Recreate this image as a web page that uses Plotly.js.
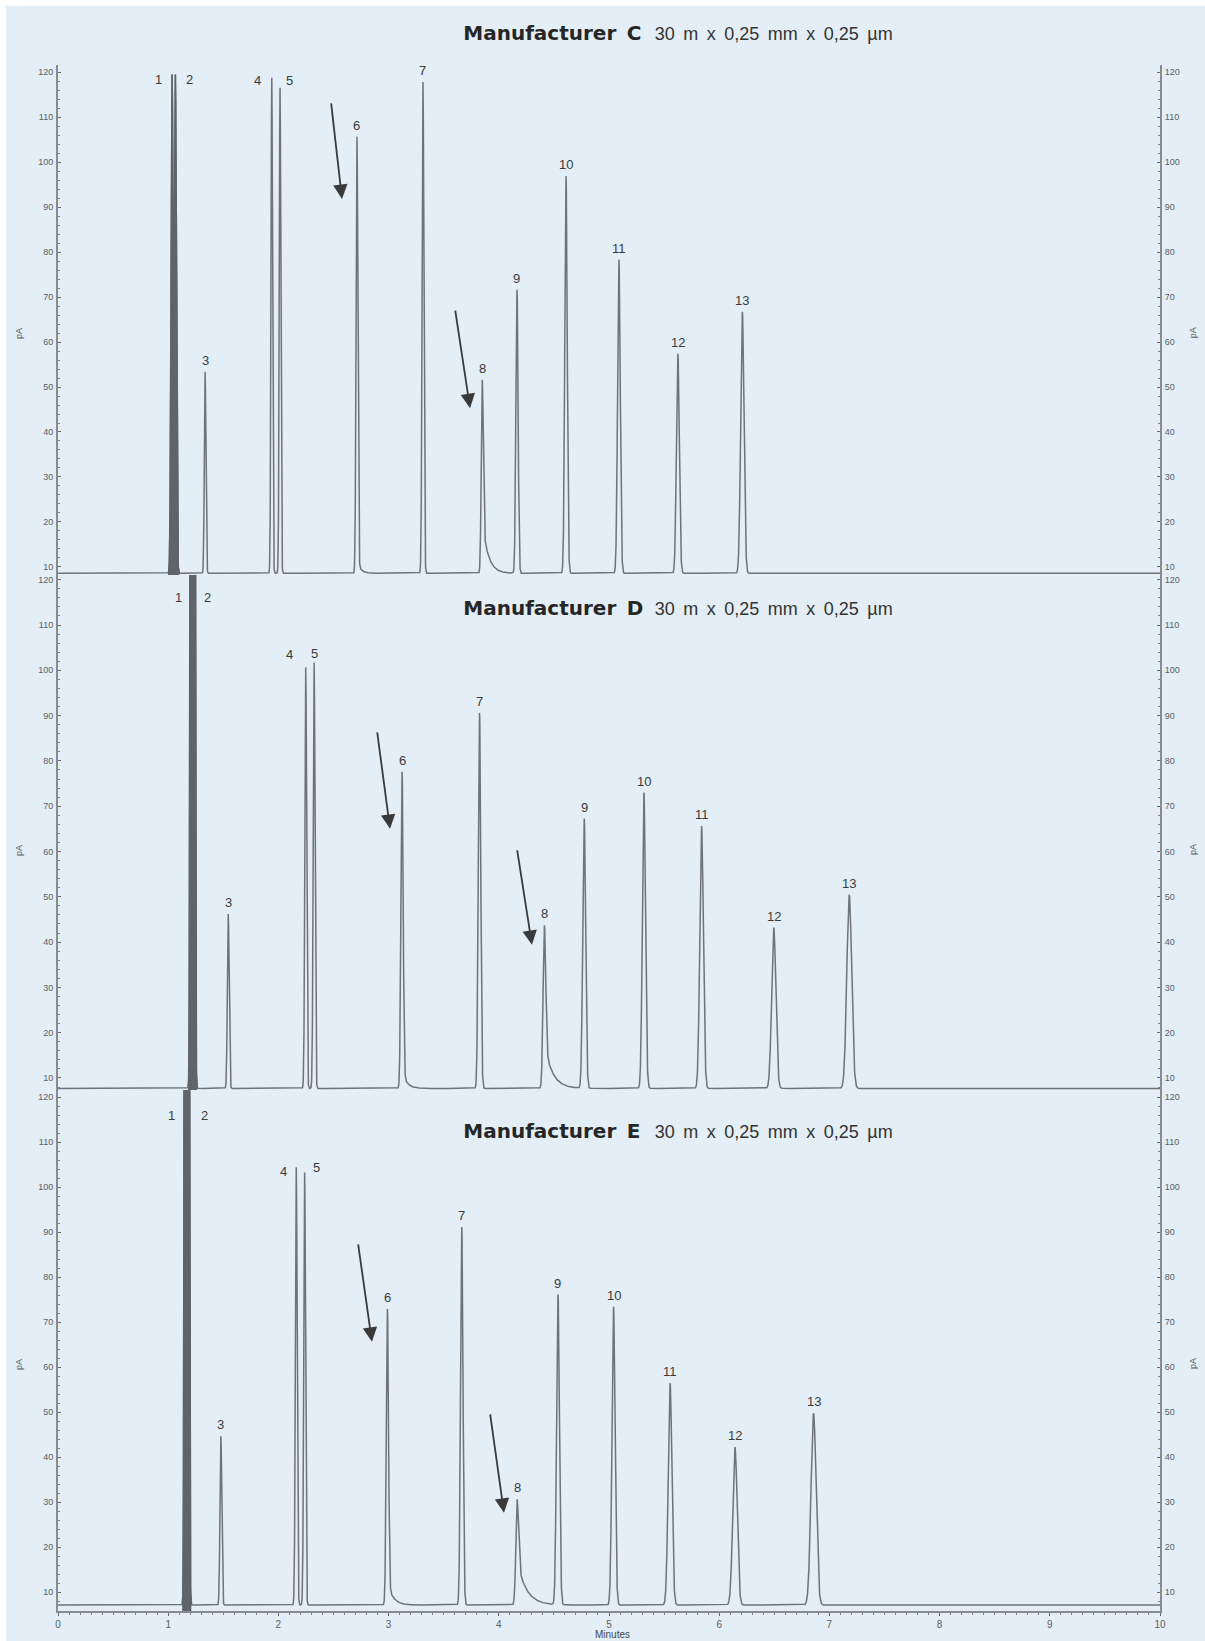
<!DOCTYPE html>
<html>
<head>
<meta charset="utf-8">
<script src="https://cdn.plot.ly/plotly-3.0.1.min.js"></script>
<style>
html,body{margin:0;padding:0;background:#ffffff;}
#chart{position:absolute;left:6px;top:6px;width:1199px;height:1635px;}
#chart .annotation-text{word-spacing:3.5px;}
</style>
</head>
<body>
<div id="chart"></div>
<script>
// ---------------- DATA ----------------
const peakLabels = ['1','2','3','4','5','6','7','8','9','10','11','12','13'];

// Manufacturer C : retention time (min), apex height (pA), peak width (sigma, min), tail amplitude, tail decay
const rtC   = [1.035, 1.065, 1.335, 1.94, 2.015, 2.713, 3.312, 3.85, 4.165, 4.61, 5.09, 5.625, 6.21];
const hC    = [119, 119, 53.4, 118.7, 116.5, 105.6, 117.8, 51.6, 71.6, 96.9, 78.3, 57.4, 66.7];
const wC    = [0.009, 0.009, 0.007, 0.007, 0.007, 0.008, 0.008, 0.009, 0.010, 0.011, 0.012, 0.013, 0.015];
const tailC = [0, 0, 0, 0, 0, 3, 0, 12, 0, 0, 0, 0, 0];
const tauC  = [0, 0, 0, 0, 0, 0.03, 0, 0.05, 0, 0, 0, 0, 0];

// Manufacturer D
const rtD   = [1.208, 1.235, 1.545, 2.248, 2.324, 3.122, 3.825, 4.414, 4.775, 5.317, 5.84, 6.495, 7.18];
const hD    = [400, 400, 46.2, 100.7, 101.7, 77.6, 90.6, 43.7, 67.2, 73.0, 65.6, 43.2, 50.4];
const wD    = [0.007, 0.007, 0.008, 0.008, 0.008, 0.010, 0.011, 0.012, 0.013, 0.014, 0.016, 0.019, 0.022];
const tailD = [0, 0, 0, 0, 0, 4, 0, 10, 0, 0, 0, 0, 0];
const tauD  = [0, 0, 0, 0, 0, 0.04, 0, 0.07, 0, 0, 0, 0, 0];

// Manufacturer E
const rtE   = [1.155, 1.182, 1.478, 2.162, 2.238, 2.989, 3.664, 4.167, 4.537, 5.041, 5.554, 6.143, 6.856];
const hE    = [400, 400, 44.6, 104.4, 103.2, 72.9, 91.1, 30.6, 76.0, 73.4, 56.4, 42.2, 49.7];
const wE    = [0.007, 0.007, 0.008, 0.008, 0.008, 0.010, 0.011, 0.012, 0.013, 0.014, 0.017, 0.020, 0.023];
const tailE = [0, 0, 0, 0, 0, 5, 0, 10, 0, 0, 0, 0, 0];
const tauE  = [0, 0, 0, 0, 0, 0.05, 0, 0.08, 0, 0, 0, 0, 0];

// detector baseline level of each chromatogram (pA)
const baselineLevels = [8.6, 7.7, 7.1];

const panelNames = ['Manufacturer C', 'Manufacturer D', 'Manufacturer E'];
const columnSpec = '30 m x 0,25 mm x 0,25 \u00b5m';
const xTickVals = [0,1,2,3,4,5,6,7,8,9,10];
const xAxisTitle = 'Minutes';
const yAxisTitle = 'pA';

// ---------------- BUILD ----------------
const runMinutes = 10, step = 0.001;
const times = [];
for (let i = 0; i <= runMinutes / step; i++) times.push(+(i * step).toFixed(3));

// detector signal built from the peak table (only the peaks listed in "use")
function chromatogram(p, base, use) {
  const y = times.map(() => base);
  use.forEach(k => {
    const A = p.ta[k] || 0, tau = p.tt[k] || 0.0001, w = p.w[k];
    const g = p.h[k] - base - A;
    const lo = Math.max(0, Math.floor((p.rt[k] - 10 * w) / step));
    const hi = Math.min(times.length - 1, Math.ceil((p.rt[k] + Math.max(10 * w, 10 * tau)) / step));
    for (let i = lo; i <= hi; i++) {
      const d = times[i] - p.rt[k];
      const gs = Math.exp(-0.5 * (d / w) * (d / w));
      let v = g * gs;
      if (A > 0) v += d < 0 ? A * gs : A * Math.exp(-d / tau);
      y[i] += v;
    }
  });
  return y;
}

const panels = [
  {rt: rtC, h: hC, w: wC, ta: tailC, tt: tauC, ax: 'y',  right: 'y4'},
  {rt: rtD, h: hD, w: wD, ta: tailD, tt: tauD, ax: 'y2', right: 'y5'},
  {rt: rtE, h: hE, w: wE, ta: tailE, tt: tauE, ax: 'y3', right: 'y6'}
];

const traceColor = '#6e7378';
const data = [];
panels.forEach((p, idx) => {
  const all = p.rt.map((_, k) => k);
  const full = chromatogram(p, baselineLevels[idx], all);
  data.push({
    x: times, y: full, xaxis: 'x', yaxis: p.ax, type: 'scatter', mode: 'lines',
    line: {color: traceColor, width: 1.5}, hoverinfo: 'skip', showlegend: false
  });
  // the unresolved pair 1+2 prints as a solid dark band
  const pair = chromatogram(p, baselineLevels[idx], [0, 1]);
  const lo = Math.floor((p.rt[0] - 4 * p.w[0]) / step), hi = Math.ceil((p.rt[1] + 4 * p.w[1]) / step);
  data.push({
    x: times.slice(lo, hi + 1), y: pair.slice(lo, hi + 1), xaxis: 'x', yaxis: p.ax, type: 'scatter', mode: 'lines',
    fill: 'tozeroy', fillcolor: '#5f6469', line: {color: '#5f6469', width: 1.5}, hoverinfo: 'skip', showlegend: false
  });
  data.push({x: [null], y: [null], xaxis: 'x', yaxis: p.right, type: 'scatter', mode: 'lines', showlegend: false, hoverinfo: 'skip'});
});

// geometry (layout only)
const yRanges = [[8.22, 121.56], [7.35, 121.04], [5.78, 121.56]];
const yDomains = [[0.67012, 1], [0.33700, 0.67012], [0, 0.33700]];
const bg = '#e3eef6';
const axisColor = '#878c91';
const tickFont = {family: 'Liberation Sans, Arial, sans-serif', size: 9, color: '#5b6065'};

function yAxis(i, side, overlay) {
  const a = {
    range: yRanges[i], showline: true, linecolor: axisColor, linewidth: 2,
    tickmode: 'linear', tick0: 0, dtick: 10,
    ticks: 'inside', ticklen: 3, tickwidth: 1, tickcolor: '#666b70',
    minor: {tickmode: 'linear', tick0: 0, dtick: 2, ticks: 'inside', ticklen: 2, tickwidth: 1, tickcolor: '#7d8287', showgrid: false},
    tickfont: tickFont, ticklabelstandoff: 1,
    showgrid: false, zeroline: false, fixedrange: true, anchor: 'x', side: side
  };
  if (overlay) a.overlaying = overlay; else a.domain = yDomains[i];
  return a;
}

const annotations = [];
const titleY = [1.0207, 0.6488, 0.3105];
panelNames.forEach((n, i) => {
  annotations.push({xref: 'paper', yref: 'paper', x: 0.3674, y: titleY[i], xanchor: 'left', yanchor: 'middle',
    text: '<b>' + n + '</b>', showarrow: false,
    font: {family: 'DejaVu Sans, Arial, sans-serif', size: 20, color: '#262626'}});
  annotations.push({xref: 'paper', yref: 'paper', x: 0.5510, y: titleY[i] - 0.0005, xanchor: 'left', yanchor: 'middle',
    text: columnSpec, showarrow: false,
    font: {family: 'Liberation Sans, Arial, sans-serif', size: 18, color: '#333333'}});
});

// side-placed labels (pixel shift, label level) for the overlapping peak pairs
const sideLabels = [
  {'1': [-14, 118.3], '2': [14, 118.3], '4': [-14, 118.2], '5': [9, 118.2]},
  {'1': [-13, 116],   '2': [13, 116],   '4': [-16, 103.4], '5': [0, 103.8]},
  {'1': [-14, 116],   '2': [16, 116],   '4': [-13, 103.4], '5': [12, 104.4]}
];
const labelFont = {family: 'Liberation Sans, Arial, sans-serif', size: 13, color: '#3a3a3a'};
panels.forEach((p, i) => {
  peakLabels.forEach((lab, k) => {
    const s = sideLabels[i][lab];
    if (s) {
      annotations.push({xref: 'x', yref: p.ax, x: p.rt[k], y: s[1], xshift: s[0], xanchor: 'center', yanchor: 'middle',
        text: lab, showarrow: false, font: labelFont});
    } else {
      annotations.push({xref: 'x', yref: p.ax, x: p.rt[k], y: p.h[k], yshift: 2, xanchor: 'center', yanchor: 'bottom',
        text: lab, showarrow: false, font: labelFont});
    }
  });
});

// arrows pointing at the tailing peaks
const arrows = [
  ['y', 2.577, 91.8, -11, -97], ['y', 3.739, 45.3, -15, -99],
  ['y2', 3.013, 65.0, -13, -98], ['y2', 4.301, 39.4, -15, -96],
  ['y3', 2.849, 65.6, -14, -99], ['y3', 4.047, 27.6, -14, -100]
];
arrows.forEach(a => {
  annotations.push({xref: 'x', yref: a[0], x: a[1], y: a[2], ax: a[3], ay: a[4], text: '',
    showarrow: true, arrowhead: 2, arrowsize: 1.6, arrowwidth: 1.8, arrowcolor: '#3a3a3a', standoff: 0});
});

// axis titles
[0.8266, 0.4922, 0.1598].forEach(yy => {
  annotations.push({xref: 'paper', yref: 'paper', x: -0.0354, y: yy, xanchor: 'center', yanchor: 'middle', text: yAxisTitle, textangle: -90,
    showarrow: false, font: {family: 'Liberation Sans, Arial, sans-serif', size: 9, color: '#555a5f'}});
  annotations.push({xref: 'paper', yref: 'paper', x: 1.030, y: yy, xanchor: 'center', yanchor: 'middle', text: yAxisTitle, textangle: -90,
    showarrow: false, font: {family: 'Liberation Sans, Arial, sans-serif', size: 9, color: '#555a5f'}});
});
annotations.push({xref: 'paper', yref: 'paper', x: 0.503, y: -0.0155, xanchor: 'center', yanchor: 'middle', text: xAxisTitle, showarrow: false,
  font: {family: 'Liberation Sans, Arial, sans-serif', size: 10, color: '#44494e'}});

const layout = {
  width: 1199, height: 1635,
  margin: {l: 52, r: 45, t: 59, b: 30},
  paper_bgcolor: bg, plot_bgcolor: bg,
  showlegend: false,
  xaxis: {
    range: [0, 10], anchor: 'y3', showline: true, linecolor: axisColor, linewidth: 1.5,
    tickmode: 'array', tickvals: xTickVals, ticktext: xTickVals.map(String),
    ticks: 'outside', ticklen: 3, tickcolor: '#666b70', ticklabelstandoff: 0,
    minor: {tickmode: 'linear', tick0: 0, dtick: 0.1, ticks: 'outside', ticklen: 2, tickcolor: '#7d8287', showgrid: false},
    tickfont: {family: 'Liberation Sans, Arial, sans-serif', size: 10, color: '#5b6065'},
    showgrid: false, zeroline: false, fixedrange: true
  },
  yaxis: yAxis(0, 'left'), yaxis2: yAxis(1, 'left'), yaxis3: yAxis(2, 'left'),
  yaxis4: yAxis(0, 'right', 'y'), yaxis5: yAxis(1, 'right', 'y2'), yaxis6: yAxis(2, 'right', 'y3'),
  annotations: annotations
};

Plotly.newPlot('chart', data, layout, {staticPlot: true, displayModeBar: false});
</script>
</body>
</html>
